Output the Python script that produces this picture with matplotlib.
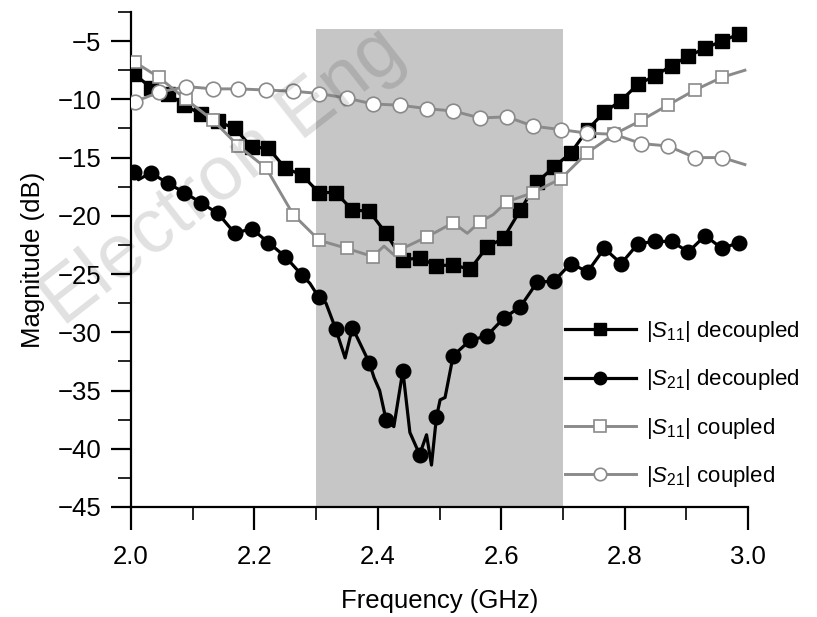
import numpy as np
import matplotlib
matplotlib.use("Agg")
import matplotlib.pyplot as plt
from matplotlib.lines import Line2D
from matplotlib.ticker import MultipleLocator, FormatStrFormatter

plt.rcParams['font.family'] = ['Liberation Sans', 'DejaVu Sans']
plt.rcParams['mathtext.fontset'] = 'custom'
plt.rcParams['mathtext.rm'] = 'Liberation Sans'
plt.rcParams['mathtext.it'] = 'Liberation Sans:italic'

# ---------------- data ----------------
# decoupled measurements (marker grid)
dec_freq = np.round(np.linspace(2.005, 2.985, 37), 4)
s11_dec = [-7.8, -9.0, -9.5, -10.5, -11.3, -11.9, -12.5, -14.1, -14.2, -15.9,
           -16.5, -18.0, -18.0, -19.5, -19.6, -21.5, -23.8, -23.6, -24.3, -24.2,
           -24.6, -22.7, -21.9, -19.5, -17.1, -15.8, -14.6, -12.6, -11.1, -10.1,
           -8.7, -8.0, -7.1, -6.3, -5.6, -5.0, -4.4]
s21_dec = [-16.2, -16.3, -17.2, -18.0, -18.9, -19.8, -21.5, -21.1, -22.3, -23.5,
           -25.1, -27.0, -29.7, -29.6, -32.6, -37.5, -33.3, -40.5, -37.3, -32.0,
           -30.7, -30.3, -28.8, -27.8, -25.7, -25.6, -24.1, -24.8, -22.8, -24.1,
           -22.4, -22.2, -22.2, -23.1, -21.7, -22.8, -22.3]
# extra curve points between markers (|S21| decoupled)
s21_dec_xf = [2.012, 2.290, 2.316, 2.347, 2.394, 2.403, 2.426, 2.452, 2.479, 2.487, 2.501, 2.509]
s21_dec_xdb = [-16.9, -25.8, -27.5, -32.2, -33.9, -35.0, -38.1, -38.6, -38.8, -41.4, -35.8, -35.6]

# coupled measurements (marker grid)
cpl_freq = [2.006, 2.045, 2.089, 2.133, 2.174, 2.219, 2.263, 2.305, 2.350, 2.392,
            2.436, 2.480, 2.522, 2.566, 2.609, 2.652, 2.697, 2.739, 2.783, 2.827,
            2.870, 2.914, 2.958]
s11_cpl = [-6.8, -8.1, -10.0, -11.8, -14.0, -15.9, -19.9, -22.1, -22.8, -23.5,
           -22.9, -21.8, -20.6, -20.5, -18.8, -18.0, -16.8, -14.6, -13.0, -11.8,
           -10.5, -9.2, -8.1]
s21_cpl = [-10.2, -9.4, -8.9, -9.1, -9.1, -9.2, -9.3, -9.5, -9.9, -10.4,
           -10.5, -10.8, -11.0, -11.6, -11.5, -12.3, -12.6, -12.9, -13.0, -13.8,
           -14.0, -15.0, -15.0]
# extra curve points between markers (coupled)
s11_cpl_xf = [2.410, 2.425, 2.545, 2.587, 2.995]
s11_cpl_xdb = [-22.6, -23.3, -21.5, -19.9, -7.5]
s21_cpl_xf = [2.995]
s21_cpl_xdb = [-15.6]

band = (2.3, 2.7)
band_top = -4.0

labels = [r'|$S_{11}$| decoupled', r'|$S_{21}$| decoupled',
          r'|$S_{11}$| coupled', r'|$S_{21}$| coupled']


def merged(f, v, xf, xv):
    f_all = np.concatenate([np.asarray(f, float), np.asarray(xf, float)])
    v_all = np.concatenate([np.asarray(v, float), np.asarray(xv, float)])
    o = np.argsort(f_all)
    return f_all[o], v_all[o]


# ---------------- figure ----------------
fig = plt.figure(figsize=(8.17, 6.17), dpi=100)
ax = fig.add_axes([131 / 817, 110 / 617, 617 / 817, 495 / 617])

ax.fill_between(list(band), -45, band_top, color='#c6c6c6', lw=0, zorder=0)

GRAY = '#8a8a8a'
BLK = 'black'

# |S21| decoupled
lf, lv = merged(dec_freq, s21_dec, s21_dec_xf, s21_dec_xdb)
ax.plot(lf, lv, color=BLK, lw=2.3, zorder=2)
ax.plot(dec_freq, s21_dec, ls='none', marker='o', ms=10.5, mfc=BLK, mec=BLK, zorder=2)
# |S11| decoupled
ax.plot(dec_freq, s11_dec, color=BLK, lw=2.3, marker='s', ms=9.5, mfc=BLK, mec=BLK, zorder=3)
# |S11| coupled
lf, lv = merged(cpl_freq, s11_cpl, s11_cpl_xf, s11_cpl_xdb)
ax.plot(lf, lv, color=GRAY, lw=2.1, zorder=4)
ax.plot(cpl_freq, s11_cpl, ls='none', marker='s', ms=9, mfc='white', mec=GRAY, mew=1.2, zorder=4)
# |S21| coupled
lf, lv = merged(cpl_freq, s21_cpl, s21_cpl_xf, s21_cpl_xdb)
ax.plot(lf, lv, color=GRAY, lw=2.1, zorder=5)
ax.plot(cpl_freq, s21_cpl, ls='none', marker='o', ms=10.5, mfc='white', mec=GRAY, mew=1.2, zorder=5)

ax.set_xlim(2.0, 3.0)
ax.set_ylim(-45, -2.5)
for s in ('top', 'right'):
    ax.spines[s].set_visible(False)
for s in ('left', 'bottom'):
    ax.spines[s].set_linewidth(1.6)

ax.xaxis.set_major_locator(MultipleLocator(0.2))
ax.xaxis.set_minor_locator(MultipleLocator(0.1))
ax.yaxis.set_minor_locator(MultipleLocator(2.5))
ax.set_yticks(np.arange(-45, -4, 5))
ax.xaxis.set_major_formatter(FormatStrFormatter('%.1f'))

ax.tick_params(axis='x', which='major', direction='out', length=16.5, width=1.6, pad=11, labelsize=18.5)
ax.tick_params(axis='x', which='minor', direction='out', length=9.5, width=1.2)
ax.tick_params(axis='y', which='major', direction='out', length=14.4, width=1.6, pad=7, labelsize=18.5)
ax.tick_params(axis='y', which='minor', direction='out', length=9.4, width=1.2)

ax.set_xlabel('Frequency (GHz)', fontsize=18.5)
ax.set_ylabel('Magnitude (dB)', fontsize=18.5)
ax.xaxis.set_label_coords(0.5, -0.165)
ax.yaxis.set_label_coords(-0.140, 0.5)

handles = [
    Line2D([], [], color=BLK, lw=2.3, marker='s', ms=8, mfc=BLK, mec=BLK),
    Line2D([], [], color=BLK, lw=2.3, marker='o', ms=9, mfc=BLK, mec=BLK),
    Line2D([], [], color=GRAY, lw=2.1, marker='s', ms=8, mfc='white', mec=GRAY, mew=1.2),
    Line2D([], [], color=GRAY, lw=2.1, marker='o', ms=9, mfc='white', mec=GRAY, mew=1.2),
]
ax.legend(handles, labels, loc='center left', bbox_to_anchor=(0.703, 0.208),
          frameon=False, fontsize=16, handlelength=3.2, handletextpad=0.45,
          labelspacing=1.05, borderpad=0, borderaxespad=0)

fig.text(0.273, 0.713, 'Electron Eng', fontsize=55, rotation=38, color='black',
         alpha=0.12, ha='center', va='center', zorder=1)

fig.savefig('out.png', dpi=100)
